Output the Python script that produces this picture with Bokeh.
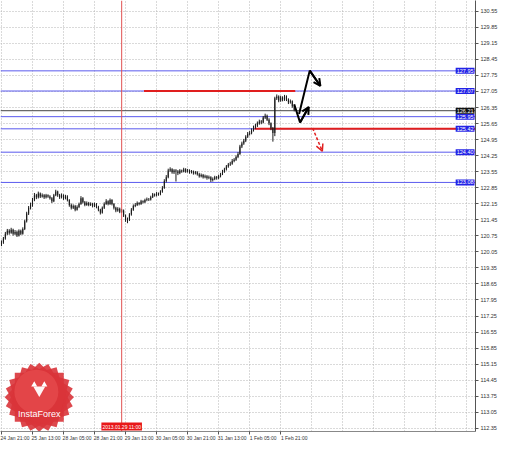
import math
from bokeh.plotting import figure
from bokeh.models import (FixedTicker, Range1d, Span, Label, Arrow, OpenHead,
                          PrintfTickFormatter, ColumnDataSource)
from bokeh.embed import file_html
from bokeh.resources import INLINE
from bokeh.core.properties import value

# ---------------- data (hourly bars) -------------
first_open = 120.40
close = [120.46, 120.63, 120.84, 120.97, 120.88, 121.01, 120.84, 120.92, 120.76, 120.97,
         120.84, 121.05, 121.39, 121.72, 121.97, 122.10, 122.31, 122.52, 122.43, 122.60,
         122.47, 122.52, 122.43, 122.52, 122.47, 122.39, 122.26, 122.52, 122.68, 122.52,
         122.43, 122.52, 122.39, 122.47, 122.31, 122.10, 121.97, 122.05, 121.89, 122.01,
         122.14, 122.39, 122.22, 122.10, 122.18, 122.10, 122.14, 122.05, 122.14, 122.01,
         121.89, 121.76, 121.97, 122.14, 122.26, 122.14, 122.31, 122.14, 121.97, 121.85,
         121.93, 121.80, 121.85, 121.64, 121.47, 121.43, 121.68, 121.89, 122.05, 122.10,
         122.18, 122.14, 122.26, 122.22, 122.31, 122.35, 122.33, 122.43, 122.56, 122.52,
         122.60, 122.56, 122.68, 122.85, 123.14, 123.31, 123.60, 123.65, 123.52, 123.60,
         123.56, 123.48, 123.60, 123.56, 123.65, 123.56, 123.60, 123.52, 123.56, 123.48,
         123.52, 123.44, 123.35, 123.40, 123.31, 123.35, 123.27, 123.31, 123.19, 123.23,
         123.31, 123.27, 123.35, 123.44, 123.56, 123.65, 123.77, 123.86, 123.90, 124.02,
         124.07, 124.19, 124.32, 124.65, 124.78, 124.90, 125.07, 125.20, 125.24, 125.36,
         125.49, 125.57, 125.66, 125.74, 125.70, 125.91, 125.99, 125.82, 125.66, 125.45,
         125.24, 126.75, 126.83, 126.66, 126.79, 126.70, 126.83, 126.70, 126.58, 126.62,
         126.41, 126.24]
high = [120.55, 120.70, 120.92, 121.05, 121.04, 121.10, 121.06, 121.00, 120.98, 121.03,
        121.02, 121.12, 121.45, 121.80, 122.05, 122.20, 122.40, 122.62, 122.58, 122.68,
        122.64, 122.60, 122.57, 122.58, 122.56, 122.52, 122.44, 122.58, 122.76, 122.72,
        122.58, 122.60, 122.56, 122.54, 122.52, 122.35, 122.16, 122.12, 122.10, 122.08,
        122.20, 122.48, 122.44, 122.27, 122.25, 122.23, 122.21, 122.19, 122.20, 122.18,
        122.06, 121.93, 122.03, 122.21, 122.35, 122.30, 122.38, 122.35, 122.18, 122.02,
        122.00, 121.98, 121.92, 121.90, 121.68, 121.55, 121.74, 121.96, 122.12, 122.18,
        122.25, 122.22, 122.32, 122.30, 122.37, 122.42, 122.40, 122.50, 122.62, 122.60,
        122.66, 122.64, 122.74, 122.92, 123.22, 123.40, 123.68, 123.74, 123.70, 123.66,
        123.66, 123.62, 123.66, 123.64, 123.72, 123.70, 123.67, 123.65, 123.62, 123.60,
        123.58, 123.57, 123.50, 123.47, 123.45, 123.42, 123.40, 123.38, 123.35, 123.30,
        123.37, 123.36, 123.42, 123.50, 123.63, 123.72, 123.84, 123.93, 123.98, 124.10,
        124.14, 124.26, 124.40, 124.72, 124.86, 124.98, 125.14, 125.28, 125.32, 125.44,
        125.56, 125.64, 125.74, 125.82, 125.80, 125.98, 126.08, 126.04, 125.88, 125.70,
        125.50, 126.82, 126.92, 126.88, 126.86, 126.84, 126.90, 126.88, 126.75, 126.70,
        126.66, 126.46]
low = [120.30, 120.40, 120.58, 120.78, 120.80, 120.84, 120.76, 120.78, 120.70, 120.72,
       120.78, 120.80, 121.00, 121.33, 121.66, 121.90, 122.02, 122.26, 122.35, 122.38,
       122.40, 122.42, 122.36, 122.38, 122.41, 122.33, 122.18, 122.22, 122.48, 122.45,
       122.36, 122.38, 122.32, 122.34, 122.25, 122.02, 121.90, 121.92, 121.82, 121.85,
       121.96, 122.10, 122.16, 122.04, 122.06, 122.04, 122.05, 121.99, 122.00, 121.95,
       121.82, 121.68, 121.72, 121.92, 122.10, 122.08, 122.10, 122.08, 121.90, 121.78,
       121.80, 121.74, 121.75, 121.57, 121.36, 121.30, 121.40, 121.63, 121.84, 122.00,
       122.05, 122.08, 122.10, 122.16, 122.18, 122.26, 122.27, 122.29, 122.40, 122.46,
       122.47, 122.50, 122.52, 122.63, 122.80, 123.08, 123.26, 123.54, 123.46, 123.45,
       123.12, 123.40, 123.44, 123.50, 123.52, 123.50, 123.51, 123.46, 123.47, 123.42,
       123.43, 123.38, 123.29, 123.30, 123.25, 123.26, 123.20, 123.22, 123.10, 123.12,
       123.18, 123.20, 123.22, 123.30, 123.40, 123.50, 123.60, 123.72, 123.80, 123.85,
       123.96, 124.02, 124.14, 124.28, 124.58, 124.72, 124.84, 125.02, 125.13, 125.18,
       125.30, 125.42, 125.50, 125.60, 125.62, 125.66, 125.85, 125.76, 125.58, 125.36,
       124.86, 125.10, 126.68, 126.58, 126.60, 126.62, 126.64, 126.63, 126.50, 126.52,
       126.34, 126.18]
open_ = [first_open] + close[:-1]
bar_idx = list(range(len(close)))

x_tick_idx = [0, 16, 32, 48, 64, 80, 96, 112, 128, 144]
x_tick_labels = ["24 Jan 21:00", "25 Jan 13:00", "28 Jan 05:00", "28 Jan 21:00",
                 "29 Jan 13:00", "30 Jan 05:00", "30 Jan 21:00", "31 Jan 13:00",
                 "1 Feb 05:00", "1 Feb 21:00"]
y_ticks = [112.35, 113.05, 113.75, 114.45, 115.15, 115.85, 116.55, 117.25, 117.95,
           118.65, 119.35, 120.05, 120.75, 121.45, 122.15, 122.85, 123.55, 124.25,
           124.95, 125.65, 126.35, 127.05, 127.75, 128.45, 129.15, 129.85, 130.55]

blue_levels = [127.95, 127.07, 125.95, 125.42, 124.40, 123.08]
current_price = 126.21
red_res = [73.5, 151.5, 127.07]     # x start, x end, level
red_sup = [130.5, 244.5, 125.42]
marker_bar = 62                     # 2013.01.29 11:00
marker_text = "2013.01.29 11:00"

arrow_up_x = [153.5, 159.0, 164.5]
arrow_up_y = [126.07, 127.96, 127.29]
arrow_mid_x = [151.0, 154.0, 158.5]
arrow_mid_y = [126.49, 125.70, 126.37]
arrow_dn_x = [160.5, 165.5]
arrow_dn_y = [125.45, 124.44]

FONT = "Liberation Sans"
W, H = 503, 443
X0, X1 = -0.5, 244.5
Y0, Y1 = 112.21, 131.02

p = figure(width=W, height=H, x_range=Range1d(X0, X1),
           y_range=Range1d(Y0, Y1), output_backend="svg",
           toolbar_location=None, y_axis_location="right",
           min_border_left=0, min_border_top=0, min_border_right=28,
           min_border_bottom=10, background_fill_color="white",
           border_fill_color="white", outline_line_color=None)

# grid
p.xgrid.ticker = FixedTicker(ticks=list(range(0, 245, 16)))
p.ygrid.ticker = FixedTicker(ticks=y_ticks)
for g in (p.xgrid[0], p.ygrid[0]):
    g.grid_line_color = "#b4b4b4"
    g.grid_line_dash = "1 2"
    g.grid_line_width = 1

# x axis
xa = p.xaxis[0]
xa.ticker = FixedTicker(ticks=[i + 7 for i in x_tick_idx], minor_ticks=x_tick_idx)
xa.major_label_overrides = {i + 7: t for i, t in zip(x_tick_idx, x_tick_labels)}
xa.major_tick_line_color = None
xa.major_tick_out = 0
xa.major_tick_in = 0
xa.minor_tick_out = 3
xa.minor_tick_in = 0
xa.minor_tick_line_color = "#555555"
xa.axis_line_color = "#888888"
xa.major_label_standoff = 0
xa.major_label_text_font_size = "5px"
xa.major_label_text_font = FONT
xa.major_label_text_color = "#333333"

# y axis (right)
ya = p.yaxis[0]
ya.ticker = FixedTicker(ticks=y_ticks)
ya.formatter = PrintfTickFormatter(format="%.2f")
ya.major_tick_out = 3
ya.major_tick_in = 0
ya.minor_tick_line_color = None
ya.axis_line_color = "#555555"
ya.major_tick_line_color = "#555555"
ya.major_label_standoff = 2
ya.major_label_text_font_size = "5.5px"
ya.major_label_text_font = FONT
ya.major_label_text_color = "#333333"

# logo (InstaForex badge)
logo_x, logo_y = 19.5, 113.70
p.scatter(x=[logo_x] * 6, y=[logo_y] * 6, marker="square", size=49,
          angle=[math.radians(a) for a in (0, 15, 30, 45, 60, 75)],
          fill_color="#d9343a", line_color=None, fill_alpha=0.9)
p.scatter(x=[logo_x - 1.5], y=[logo_y + 0.25], marker="circle", size=44,
          fill_color="#ee5a5a", line_color=None, fill_alpha=0.45)
p.scatter(x=[logo_x], y=[logo_y + 0.32], marker="inverted_triangle", size=12,
          fill_color="white", line_color=None, fill_alpha=0.95)
p.scatter(x=[logo_x - 2.6, logo_x + 2.6], y=[logo_y + 0.55, logo_y + 0.55],
          marker="triangle", size=6, fill_color="white", line_color=None)
p.text(x=[logo_x], y=[logo_y - 0.72], text=["InstaForex"], text_align="center",
       text_baseline="middle", text_color="white", text_font_size="9px",
       text_font=value(FONT))

# horizontal levels (blue under red)
n_lv = len(blue_levels)
p.segment(x0=[X0] * n_lv, x1=[X1] * n_lv, y0=blue_levels, y1=blue_levels,
          line_color="#5a5aee", line_width=1)
p.segment(x0=[X0], x1=[X1], y0=[current_price], y1=[current_price],
          line_color="#444444", line_width=1)
p.segment(x0=[red_res[0], red_sup[0]], x1=[red_res[1], red_sup[1]],
          y0=[red_res[2], red_sup[2]], y1=[red_res[2], red_sup[2]],
          line_color="#e01e1e", line_width=2)

# vertical marker
p.add_layout(Span(location=marker_bar, dimension="height", line_color="#e05050",
                  line_width=1))

# bars
src = ColumnDataSource(dict(x=bar_idx, o=open_, h=high, l=low, c=close,
                            top=[max(a, b) for a, b in zip(open_, close)],
                            bot=[min(a, b) for a, b in zip(open_, close)]))
p.segment(x0="x", x1="x", y0="l", y1="h", source=src, line_color="#1a1a1a", line_width=1)
p.vbar(x="x", top="top", bottom="bot", width=0.55, source=src,
       fill_color="#1a1a1a", line_color=None)

# arrows
p.line(arrow_up_x, arrow_up_y, line_color="black", line_width=2)
p.add_layout(Arrow(end=OpenHead(size=7, line_width=2, line_color="black"),
                   x_start=arrow_up_x[-2], y_start=arrow_up_y[-2],
                   x_end=arrow_up_x[-1], y_end=arrow_up_y[-1],
                   line_color="black", line_width=2))
p.line(arrow_mid_x, arrow_mid_y, line_color="black", line_width=2)
p.add_layout(Arrow(end=OpenHead(size=7, line_width=2, line_color="black"),
                   x_start=arrow_mid_x[-2], y_start=arrow_mid_y[-2],
                   x_end=arrow_mid_x[-1], y_end=arrow_mid_y[-1],
                   line_color="black", line_width=2))
p.add_layout(Arrow(end=OpenHead(size=7, line_width=1.5, line_color="#e02020"),
                   x_start=arrow_dn_x[0], y_start=arrow_dn_y[0],
                   x_end=arrow_dn_x[1], y_end=arrow_dn_y[1],
                   line_color="#e02020", line_width=1.5, line_dash="3 2"))

# price boxes at the price scale
for lv, bg in zip(blue_levels + [current_price], ["#2323e6"] * n_lv + ["#111111"]):
    p.add_layout(Label(x=X1, y=lv, text="%.2f" % lv, x_offset=-1,
                       text_align="right", text_baseline="middle",
                       text_font_size="5.5px", text_font=FONT, text_color="white",
                       background_fill_color=bg, padding=1))

# time box on the time scale
p.add_layout(Label(x=marker_bar, y=Y0, text=marker_text, y_offset=1,
                   text_align="center", text_baseline="bottom",
                   text_font_size="5px", text_font=FONT, text_color="white",
                   background_fill_color="#e81818", padding=1))

open("out.html", "w").write(file_html(p, INLINE))
